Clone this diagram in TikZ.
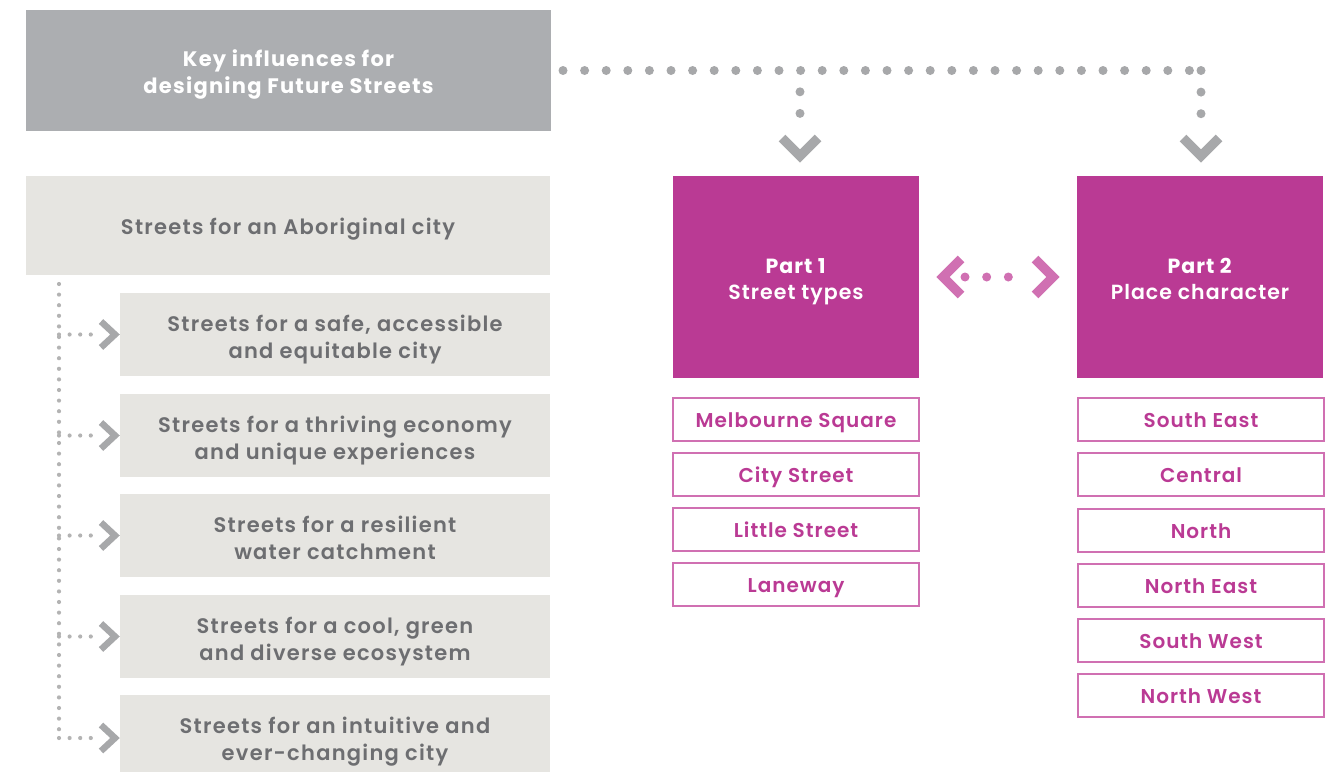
\documentclass[tikz,border=0pt]{standalone}
\usepackage{fontspec}
\setmainfont{Poppins}[UprightFont={* SemiBold},BoldFont={* Bold},LetterSpace=5]
\usetikzlibrary{calc}
\definecolor{topgray}{HTML}{ACAEB1}
\definecolor{lightbox}{HTML}{E6E5E1}
\definecolor{txtgray}{HTML}{6D6E71}
\definecolor{mag}{HTML}{BA3A94}
\definecolor{magline}{HTML}{D070B2}
\definecolor{dotgray}{HTML}{A7A8AA}
\definecolor{smalldot}{HTML}{B3B3B3}
\begin{document}
\begin{tikzpicture}[x=1pt,y=-1pt,
  base/.style={inner sep=0pt,outer sep=0pt,anchor=north west},
  lab/.style={inner sep=0pt,outer sep=0pt,align=center,execute at end node=\strut},
  topbox/.style={base,fill=topgray},
  lbox/.style={base,fill=lightbox},
  partbox/.style={base,fill=mag,minimum width=246pt,minimum height=202pt},
  itembox/.style={base,draw=magline,line width=1.2pt,minimum width=246pt,minimum height=43pt},
  toptxt/.style={lab,text=white,font=\fontsize{21}{27}\selectfont\bfseries\addfontfeatures{LetterSpace=6}},
  ltxt/.style={lab,text=txtgray,font=\fontsize{21}{27}\selectfont\addfontfeatures{LetterSpace=6}},
  parttxt/.style={lab,text=white,font=\fontsize{20.5}{26}\selectfont},
  itemtxt/.style={lab,text=mag,font=\fontsize{20}{26}\selectfont},
  bigdots/.style={line width=9pt,line cap=round,dash pattern=on 0pt off 21.6pt},
  smalldots/.style={color=smalldot,line width=4.2pt,line cap=round,dash pattern=on 0pt off 10.6pt},
  chev/.style={line width=9.5pt,miter limit=10,line join=miter},
  schev/.style={draw=dotgray,line width=6.5pt,miter limit=10,line join=miter},
]
\useasboundingbox (0,0) rectangle (1341,771);

% top box
\node[topbox,minimum width=525pt,minimum height=121pt] (key) at (26,10) {};
\node[toptxt] (keyt) at ($(key.center)+(0,5)$) {Key influences for\\designing Future Streets};

% left column
\node[lbox,minimum width=524pt,minimum height=99pt] (abo) at (26,176) {};
\node[lbox,minimum width=430pt,minimum height=83pt] (s1) at (120,293) {};
\node[lbox,minimum width=430pt,minimum height=83pt] (s2) at (120,394) {};
\node[lbox,minimum width=430pt,minimum height=83pt] (s3) at (120,494) {};
\node[lbox,minimum width=430pt,minimum height=83pt] (s4) at (120,595) {};
\node[lbox,minimum width=430pt,minimum height=86pt] (s5) at (120,695) {};
\node[ltxt] (abot) at ($(abo.center)+(0,4)$) {Streets for an Aboriginal city};
\node[ltxt] (s1t) at ($(s1.center)+(0,6)$) {Streets for a safe, accessible\\and equitable city};
\node[ltxt] (s2t) at ($(s2.center)+(0,6)$) {Streets for a thriving economy\\and unique experiences};
\node[ltxt] (s3t) at ($(s3.center)+(0,6)$) {Streets for a resilient\\water catchment};
\node[ltxt] (s4t) at ($(s4.center)+(0,6)$) {Streets for a cool, green\\and diverse ecosystem};
\node[ltxt] (s5t) at ($(s5.center)+(0,4.5)$) {Streets for an intuitive and\\ever-changing city};

% vertical dotted spine
\coordinate (vtop) at ($(abo.south west)+(33,9)$);
\coordinate (vbot) at (vtop |- s5.west);
\draw[smalldots] (vtop) -- (vbot);
\foreach \s in {s1,s2,s3,s4,s5}{
  \draw[smalldots] (vtop |- \s.west) -- ($(\s.west)+(-26,0)$);
  \draw[schev] ($(\s.west)+(-19,-13)$) -- ($(\s.west)+(-5,0)$) -- ($(\s.west)+(-19,13)$);
}

% parts
\node[partbox] (p1) at (673,176) {};
\node[partbox] (p2) at (1077,176) {};
\node[parttxt] (p1t) at ($(p1.center)+(0,6)$) {\textbf{Part 1}\\Street types};
\node[parttxt] (p2t) at ($(p2.center)+(0,6)$) {\textbf{Part 2}\\Place character};

\foreach \n/\yy/\t in {m1/398/Melbourne Square,m2/453/City Street,m3/508/Little Street,m4/563/Laneway}{
  \node[itembox] (\n) at (673,\yy) {};
  \node[itemtxt] (\n t) at ($(\n.center)+(0,3)$) {\t};
}
\foreach \n/\yy/\t in {c1/398/South East,c2/453/Central,c3/509/North,c4/564/North East,c5/619/South West,c6/674/North West}{
  \node[itembox] (\n) at (1078,\yy) {};
  \node[itemtxt] (\n t) at ($(\n.center)+(0,3)$) {\t};
}

% top connector
\coordinate (h0) at ($(key.east)+(12,0)$);
\coordinate (hA) at ($(p1.north |- h0)+(4,0)$);
\coordinate (hB) at ($(p2.north |- h0)+(1,0)$);
\coordinate (hBe) at ($(hB)+(-10,0)$);
\draw[dotgray,bigdots] (h0) -- (hBe);
\draw[dotgray,bigdots] (hB) -- ($(p2.north)+(1,-42)$);
\draw[dotgray,bigdots] ($(hA)+(0,21.3)$) -- ($(p1.north)+(4,-42)$);
\draw[draw=dotgray,chev] ($(p1.north)+(-14,-38)$) -- ($(p1.north)+(4,-20)$) -- ($(p1.north)+(22,-38)$);
\draw[draw=dotgray,chev] ($(p2.north)+(-17,-38)$) -- ($(p2.north)+(1,-20)$) -- ($(p2.north)+(19,-38)$);

% double arrow between parts
\coordinate (pa) at (p1.east |- 0,277);
\coordinate (pb) at (p2.west |- 0,277);
\draw[magline,bigdots,dash pattern=on 0pt off 21.67pt] ($(pa)+(46,0)$) -- ($(pb)+(-47,0)$);
\draw[draw=magline,chev] ($(pa)+(42,-18)$) -- ($(pa)+(24,0)$) -- ($(pa)+(42,18)$);
\draw[draw=magline,chev] ($(pb)+(-42,-18)$) -- ($(pb)+(-24,0)$) -- ($(pb)+(-42,18)$);
\end{tikzpicture}
\end{document}
